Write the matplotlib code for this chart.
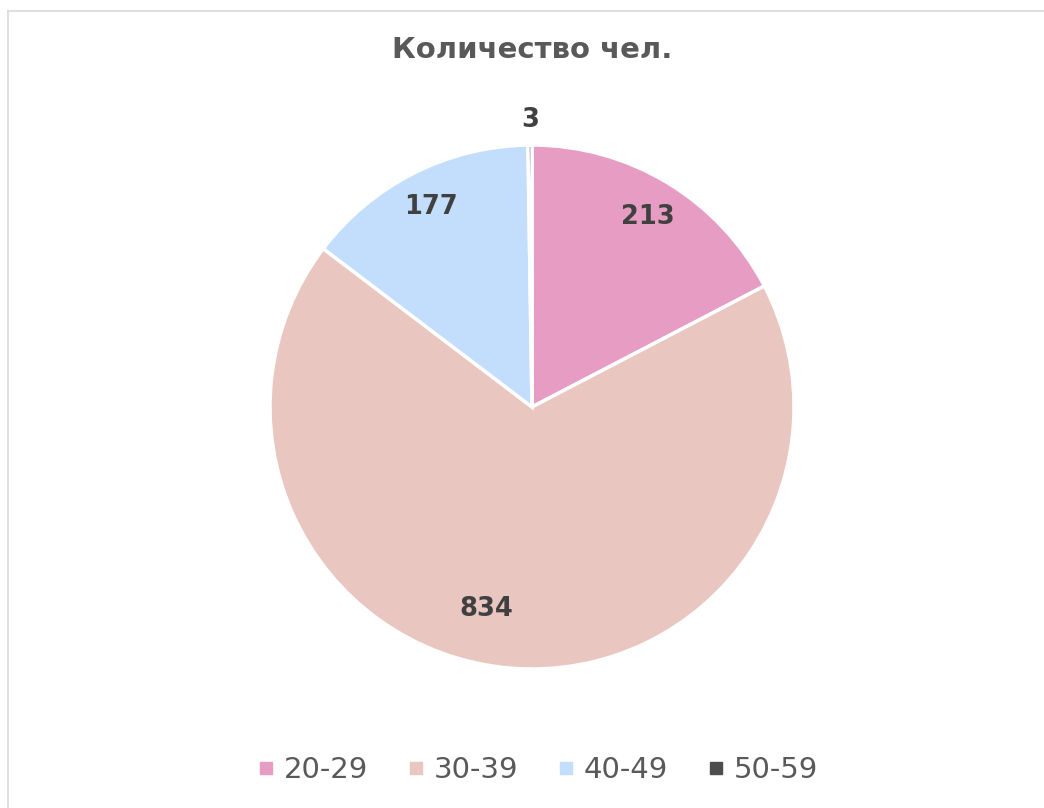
import numpy as np
import matplotlib
matplotlib.use("Agg")
import matplotlib.pyplot as plt
from matplotlib.lines import Line2D

# data
categories = ["20-29", "30-39", "40-49", "50-59"]
values = [213, 834, 177, 3]
colors = ["#E79DC3", "#E9C6C0", "#C3DEFC", "#4D4D4D"]
title = "Количество чел."

# label placement (radius fraction, angle nudge in degrees)
label_dist = [0.85, 0.79, 0.855, 1.095]
label_nudge = [0, -8, 0, 0]

plt.rcParams['font.family'] = ['DejaVu Sans']

W, H = 1044, 808
fig = plt.figure(figsize=(W / 100, H / 100), dpi=100)

# pie centre (532, 407) px, radius 262 px
cx, cy, r = 532, 407, 262
ax = fig.add_axes([(cx - r) / W, (H - cy - r) / H, 2 * r / W, 2 * r / H])
wedges, _ = ax.pie(values, colors=colors, startangle=90, counterclock=False,
                   wedgeprops=dict(edgecolor="white", linewidth=2.5))
ax.set_xlim(-1, 1)
ax.set_ylim(-1, 1)

for w, v, d, n in zip(wedges, values, label_dist, label_nudge):
    ang = np.deg2rad((w.theta1 + w.theta2) / 2 + n)
    ax.text(d * np.cos(ang), d * np.sin(ang), str(v), ha="center", va="center",
            fontsize=18.5, fontweight="bold", color="#404040")

fig.text(cx / W, 1 - 50 / H, title, ha="center", va="center",
         fontsize=21, fontweight="bold", color="#595959")

handles = [Line2D([], [], marker="s", linestyle="none", markersize=9,
                  markerfacecolor=c, markeredgecolor=c) for c in colors]
fig.legend(handles, categories, loc="center", bbox_to_anchor=(0.515, 1 - 770 / H),
           ncol=4, frameon=False, fontsize=21, labelcolor="#595959",
           handlelength=0.6, handletextpad=0.3, columnspacing=1.35)

# light frame (left + top visible)
fig.add_artist(Line2D([7.5 / W, 7.5 / W], [0, 1 - 10.5 / H], transform=fig.transFigure,
                      color="#D9D9D9", linewidth=1.2))
fig.add_artist(Line2D([7.5 / W, 1], [1 - 10.5 / H, 1 - 10.5 / H], transform=fig.transFigure,
                      color="#D9D9D9", linewidth=1.2))

fig.savefig("out.png", dpi=100)
